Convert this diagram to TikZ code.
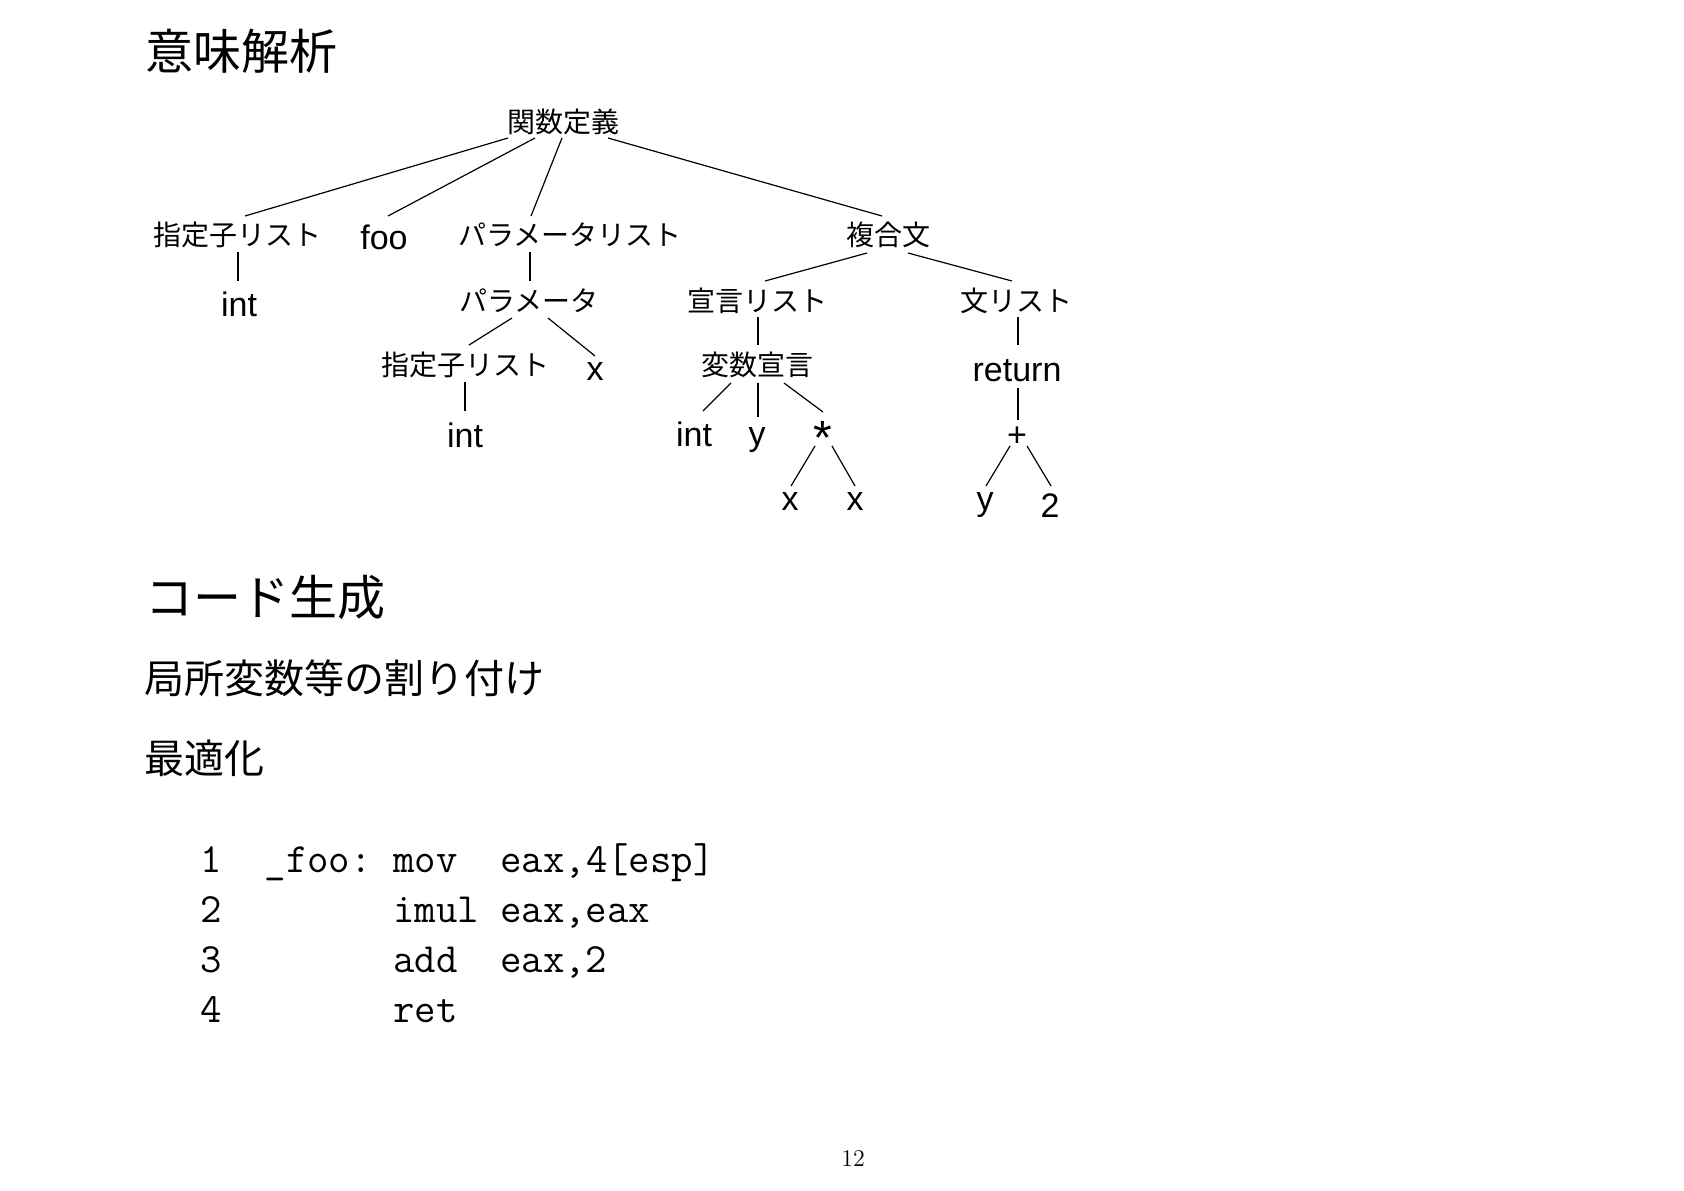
\documentclass[tikz,border=0pt]{standalone}
\usepackage{fontspec}
\newfontfamily\jp{Noto Sans CJK JP}
\newfontfamily\helv{Liberation Sans}
\usetikzlibrary{calc}
\tikzset{
  jpl/.style={font=\jp\fontsize{14}{16}\selectfont, inner sep=0pt, anchor=center},
  lat/.style={font=\helv\fontsize{17}{20}\selectfont, inner sep=0pt, anchor=base},
  latc/.style={font=\helv\fontsize{17}{20}\selectfont, inner sep=0pt, anchor=center},
  head/.style={font=\jp\fontsize{24}{28}\selectfont, inner sep=0pt, anchor=west},
  subhead/.style={font=\jp\fontsize{20}{24}\selectfont, inner sep=0pt, anchor=west},
  codeline/.style={font=\ttfamily\fontsize{20.8}{25}\selectfont, inner sep=0pt, anchor=base west},
  treeline/.style={line width=0.6pt, black}
}
\begin{document}
\begin{tikzpicture}[x=0.5pt,y=-0.5pt]
\useasboundingbox[fill=white] (0,0) rectangle (1684,1190);

% headings
\node[head] (t1) at (145,51) {意味解析};
\node[head] (t2) at (145,597) {コード生成};
\node[subhead] (s1) at (144,678) {局所変数等の割り付け};
\node[subhead] (s2) at (144,758) {最適化};

% tree nodes
\node[jpl] (root) at (563,122) {関数定義};
\node[jpl] (spec1) at (237,235) {指定子リスト};
\node[lat] (foo) at (384,249) {foo};
\node[jpl] (plist) at (570,235) {パラメータリスト};
\node[jpl] (fuku) at (888,235) {複合文};
\node[lat] (int1) at (239,316) {int};
\node[jpl] (param) at (529,301) {パラメータ};
\node[jpl] (sengen) at (757,301) {宣言リスト};
\node[jpl] (bunl) at (1016,301) {文リスト};
\node[jpl] (spec2) at (465,365) {指定子リスト};
\node[lat] (x1) at (595,380) {x};
\node[jpl] (hensu) at (757,365) {変数宣言};
\node[lat] (ret) at (1017,381) {return};
\node[lat] (int2) at (465,447) {int};
\node[lat] (int3) at (694,446) {int};
\node[lat] (y1) at (757,445) {y};
\node[latc, font=\helv\fontsize{24}{26}\selectfont] (star) at (823,438) {*};
\node[latc] (plus) at (1017,437) {+};
\node[lat] (x2) at (790,510) {x};
\node[lat] (x3) at (855,510) {x};
\node[lat] (y2) at (985,510) {y};
\node[lat] (two) at (1050,517) {2};

% tree connectors
\draw[treeline] ($(root)+(-55,16)$) -- ($(spec1)+(8,-19)$);
\draw[treeline] ($(root)+(-28,16)$) -- ($(foo.base)+(4,-33)$);
\draw[treeline] ($(root)+(-1,16)$) -- ($(plist)+(-39,-19)$);
\draw[treeline] ($(root)+(45,16)$) -- ($(fuku)+(-6,-19)$);
\draw[treeline] ($(spec1)+(1,17)$) -- ($(int1.base)+(-1,-35)$);
\draw[treeline] ($(plist)+(-40,17)$) -- ($(param)+(1,-20)$);
\draw[treeline] ($(param)+(-17,17)$) -- ($(spec2)+(4,-20)$);
\draw[treeline] ($(param)+(19,17)$) -- ($(x1.base)+(0,-24)$);
\draw[treeline] ($(spec2)+(0,17)$) -- ($(int2.base)+(0,-36)$);
\draw[treeline] ($(fuku)+(-21,18)$) -- ($(sengen)+(8,-20)$);
\draw[treeline] ($(fuku)+(20,18)$) -- ($(bunl)+(-4,-20)$);
\draw[treeline] ($(sengen)+(1,16)$) -- ($(hensu)+(1,-20)$);
\draw[treeline] ($(bunl)+(2,16)$) -- ($(ret.base)+(1,-36)$);
\draw[treeline] ($(hensu)+(-26,18)$) -- ($(int3.base)+(9,-35)$);
\draw[treeline] ($(hensu)+(1,18)$) -- ($(y1.base)+(1,-28)$);
\draw[treeline] ($(hensu)+(27,18)$) -- ($(star)+(0,-26)$);
\draw[treeline] ($(ret.base)+(1,7)$) -- ($(plus)+(1,-17)$);
\draw[treeline] ($(star)+(-8,8)$) -- ($(x2.base)+(1,-24)$);
\draw[treeline] ($(star)+(9,8)$) -- ($(x3.base)+(0,-24)$);
\draw[treeline] ($(plus)+(-7,9)$) -- ($(y2.base)+(1,-24)$);
\draw[treeline] ($(plus)+(10,9)$) -- ($(two.base)+(1,-31)$);

% code
\node[codeline] (c1) at (200,872) {1\ \ \_foo:\ mov\ \ eax,4[esp]};
\node[codeline] (c2) at (200,922) {2\ \ \ \ \ \ \ \ imul\ eax,eax};
\node[codeline] (c3) at (200,972) {3\ \ \ \ \ \ \ \ add\ \ eax,2};
\node[codeline] (c4) at (200,1022) {4\ \ \ \ \ \ \ \ ret};

% page number
\node[font=\fontsize{12}{14}\selectfont, inner sep=0pt, anchor=base] (pg) at (853,1166) {12};
\end{tikzpicture}
\end{document}
